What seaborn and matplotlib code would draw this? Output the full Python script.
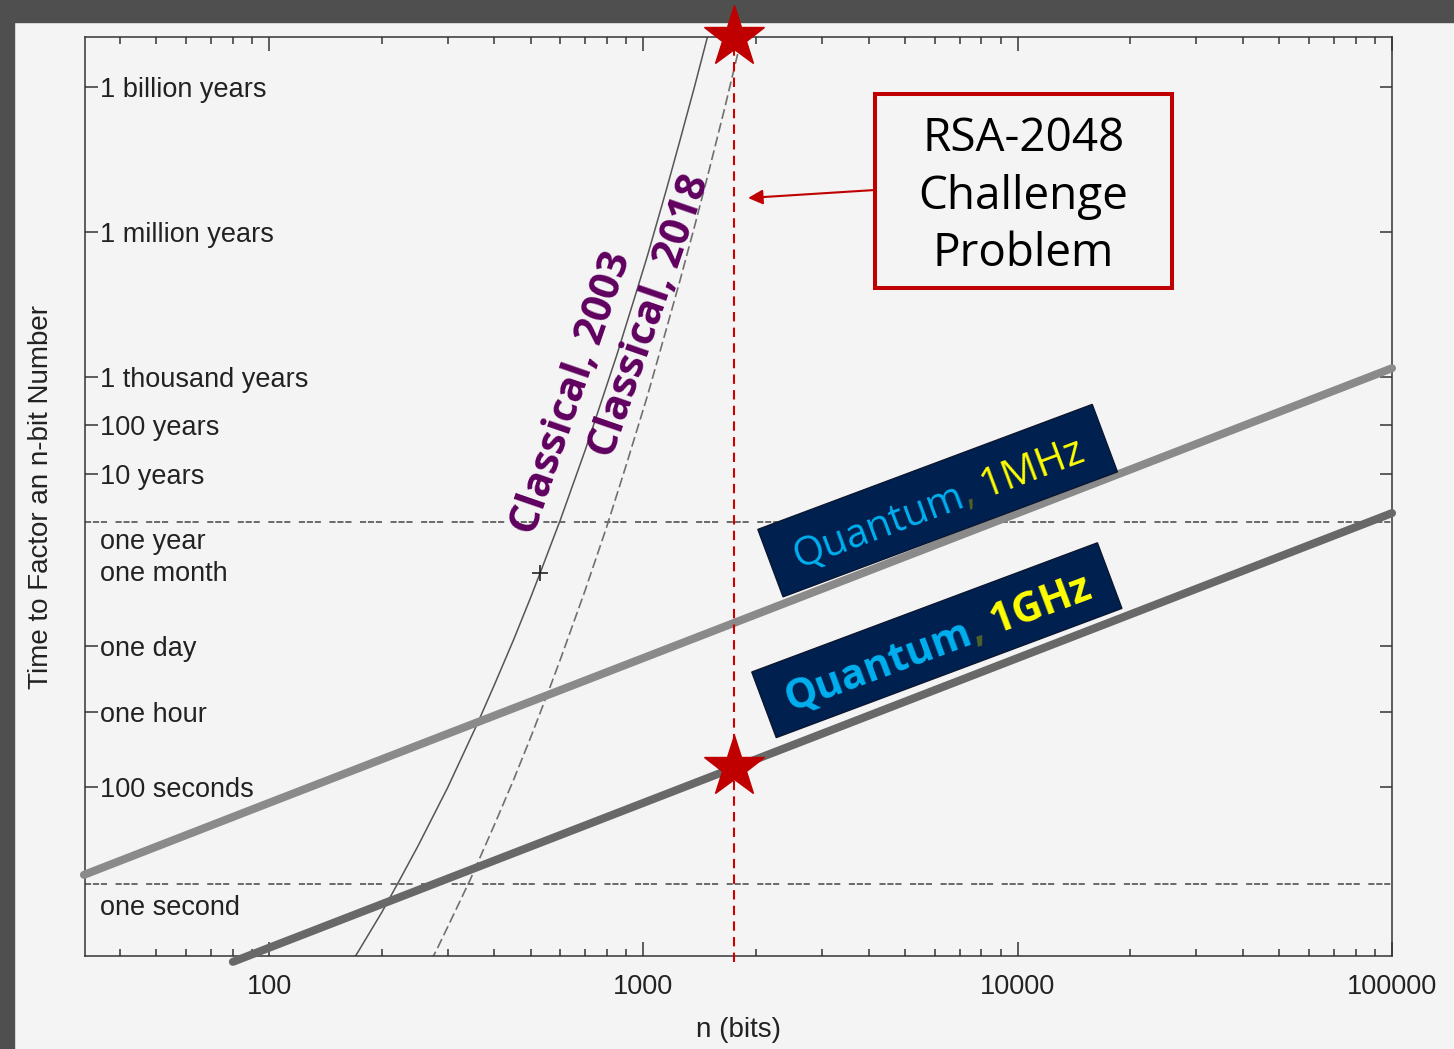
import numpy as np
import matplotlib
matplotlib.use('Agg')
import matplotlib.pyplot as plt
import matplotlib.patches as mpatches
from matplotlib.transforms import Affine2D, IdentityTransform
from matplotlib.ticker import LogLocator, NullFormatter, NullLocator
import seaborn as sns

# 数据 (n 位, 秒)
bits_1mhz = [32, 100, 1000, 10000, 100000]
secs_1mhz = [1.55, 48, 4.8e4, 4.8e7, 4.8e10]
bits_1ghz = [80, 100, 1000, 10000, 100000]
secs_1ghz = [0.0245, 0.048, 48, 4.8e4, 4.8e7]

bits_2003 = [150, 173, 200, 223, 250, 300, 330, 359, 400, 450, 500, 530, 600, 700, 850,
             950, 1024, 1150, 1250, 1370, 1483, 1600]
secs_2003 = [6.9e-3, 4.0e-2, 0.26, 1.2, 6.2, 1.0e2, 4.9e2, 2.0e3, 1.35e4, 1.15e5, 8.7e5,
             2.8e6, 3.5e7, 1.0e9, 9.3e10, 1.5e12, 1.0e13, 2.3e14, 2.4e15, 3.3e16, 3.5e17,
             3.6e18]
bits_2018 = [250, 282, 300, 344, 400, 450, 500, 558, 600, 700, 795, 900, 1024, 1150, 1250,
             1370, 1500, 1650, 1776, 1850]
secs_2018 = [7.8e-3, 4.8e-2, 0.13, 1.2, 17, 1.45e2, 1.1e3, 1.0e4, 4.5e4, 1.26e6, 2.3e7,
             4.8e8, 1.26e10, 3.0e11, 3.0e12, 4.2e13, 6.3e14, 1.2e16, 1.3e17, 4.8e17]

rsa_bits = 1750
rsa_secs_1ghz = 260
rsa512_bits = 530
rsa512_secs = 2.7e6

YEAR = 3.156e7
ytick_secs = [1e9 * YEAR, 1e6 * YEAR, 1e3 * YEAR, 100 * YEAR, 10 * YEAR, 86400, 3600, 100]
ytick_labels = ['1 billion years', '1 million years', '1 thousand years', '100 years',
                '10 years', 'one day', 'one hour', '100 seconds']
extra_labels = ['one year', 'one month', 'one second']
extra_secs = [YEAR, YEAR / 12, 1]
xtick_bits = [100, 1000, 10000, 100000]
xtick_labels = ['100', '1000', '10000', '100000']

# 样式
BG = '#f4f4f4'
INK = '#222222'
RED = '#c00000'
NAVY = '#002050'
PURPLE = '#5f005f'
LABEL_FONT = ['Open Sans', 'DejaVu Sans']

sns.set_theme(style='ticks')
plt.rcParams['font.family'] = ['Liberation Sans', 'DejaVu Sans']

fig = plt.figure(figsize=(14.5401, 10.4901), dpi=100, facecolor=BG)
ax = fig.add_axes([85 / 1454, 93 / 1049, 1307 / 1454, 919 / 1049])
ax.set_facecolor(BG)
ax.set(xscale='log', yscale='log')
ax.set_xlim(10 ** 1.508, 1e5)
ax.set_ylim(10 ** -1.49, 10 ** 17.54)
y_top = ax.get_ylim()[1]

# 参考线
dots = (0, (4, 1.2, 4, 1.2, 4, 5.6))
ax.axhline(YEAR, color='#444444', lw=1.1, ls=dots, zorder=1)
ax.axhline(1, color='#444444', lw=1.1, ls=dots, zorder=1)

# 曲线
sns.lineplot(x=bits_2003, y=secs_2003, ax=ax, color='#555555', lw=1.1, estimator=None, zorder=2)
sns.lineplot(x=bits_2018, y=secs_2018, ax=ax, color='#707070', lw=1.2,
             linestyle=(0, (6, 2.5)), estimator=None, zorder=2)
sns.lineplot(x=bits_1mhz, y=secs_1mhz, ax=ax, color='#8a8a8a', lw=5.8, estimator=None,
             solid_capstyle='round', clip_on=False, zorder=3)
sns.lineplot(x=bits_1ghz, y=secs_1ghz, ax=ax, color='#686868', lw=5.8, estimator=None,
             solid_capstyle='round', clip_on=False, zorder=3)

ax.plot([rsa512_bits], [rsa512_secs], marker='+', ms=12, mew=1.2, color=INK, zorder=4)

# RSA-2048
ax.axvline(rsa_bits, ymin=-0.007, ymax=1, color='#cc0000', lw=1.5, ls=(0, (4.5, 3)),
           clip_on=False, zorder=4)
ax.plot([rsa_bits], [y_top], marker='*', ms=46, color=RED, mec=RED, clip_on=False, zorder=7)
ax.plot([rsa_bits], [rsa_secs_1ghz], marker='*', ms=46, color=RED, mec=RED, clip_on=False, zorder=7)

ax.add_patch(mpatches.Rectangle((0.6044, 0.7269), 0.2273, 0.2111, transform=ax.transAxes,
                                facecolor=BG, edgecolor=RED, lw=2.9, zorder=5))
ax.text(0.718, 0.826, 'RSA-2048\nChallenge\nProblem', transform=ax.transAxes,
        ha='center', va='center', fontsize=33, linespacing=1.33, color='black',
        family=LABEL_FONT, zorder=6)
ax.annotate('', xy=(0.5073, 0.8248), xytext=(0.6044, 0.8335), xycoords='axes fraction',
            arrowprops=dict(arrowstyle='-|>', color=RED, lw=1.5, mutation_scale=22,
                            shrinkA=0, shrinkB=0), zorder=6)

# 经典算法标签
ax.text(645, 1.5e10, 'Classical, 2003', rotation=71, rotation_mode='anchor', ha='center',
        va='center', fontsize=30, fontweight='bold', color=PURPLE, family=LABEL_FONT, zorder=5)
ax.text(1045, 5.7e11, 'Classical, 2018', rotation=71, rotation_mode='anchor', ha='center',
        va='center', fontsize=30, fontweight='bold', color=PURPLE, family=LABEL_FONT, zorder=5)

# 坐标轴
for sp in ax.spines.values():
    sp.set_visible(True)
    sp.set_color('#333333')
    sp.set_linewidth(1.1)

ax.set_xticks(xtick_bits, labels=xtick_labels)
ax.xaxis.set_minor_locator(LogLocator(base=10, subs=np.arange(2, 10), numticks=20))
ax.xaxis.set_minor_formatter(NullFormatter())
ax.tick_params(axis='x', which='major', direction='in', length=10, width=1.1, top=True,
               pad=13, labelsize=19.5, labelcolor=INK, color='#333333')
ax.tick_params(axis='x', which='minor', direction='in', length=5, width=1.1, top=True,
               color='#333333')

ax.set_yticks(ytick_secs, labels=ytick_labels)
ax.yaxis.set_minor_locator(NullLocator())
ax.tick_params(axis='y', which='major', direction='in', length=9, width=1.1, left=True,
               right=True, pad=-11, labelsize=19.5, labelcolor=INK, color='#333333')
for lab in ax.get_yticklabels():
    lab.set_horizontalalignment('left')

for lab, sec, dy in zip(extra_labels, extra_secs, [-14.5, 0, -17.3]):
    ax.annotate(lab, xy=(0, sec), xycoords=('axes fraction', 'data'), xytext=(11, dy),
                textcoords='offset points', ha='left', va='center', fontsize=19.5, color=INK)

ax.set_xlabel('n (bits)', fontsize=20, color=INK)
ax.set_ylabel('Time to Factor an n-bit Number', fontsize=20, color=INK)
ax.xaxis.set_label_coords(0.5, -0.066)
ax.yaxis.set_label_coords(-0.024, 0.5)

# 量子标签框 (旋转, 多色文字)
renderer = fig.canvas.get_renderer()


def text_width(s, size, weight):
    t = fig.text(0, 0, s, fontsize=size, fontweight=weight, family=LABEL_FONT,
                 transform=IdentityTransform())
    w = t.get_window_extent(renderer).width
    t.remove()
    return w


def quantum_box(center, angle, pieces, size, weight, box_w, box_h):
    cx, cy = ax.transData.transform(center)
    rect = mpatches.Rectangle((cx - box_w / 2, cy - box_h / 2), box_w, box_h,
                              transform=Affine2D().rotate_deg_around(cx, cy, angle),
                              facecolor=NAVY, edgecolor='#0b1630', lw=1, zorder=5)
    fig.add_artist(rect)
    th = np.deg2rad(angle)
    u = np.array([np.cos(th), np.sin(th)])
    up = np.array([-np.sin(th), np.cos(th)])
    full = ''.join(p[0] for p in pieces)
    total = text_width(full, size, weight)
    em = size * fig.dpi / 72
    start = np.array([cx, cy]) - total / 2 * u - 0.36 * em * up
    prefix = ''
    for s, c in pieces:
        off = text_width(prefix + s, size, weight) - text_width(s, size, weight)
        pos = start + off * u
        fig.text(pos[0], pos[1], s, color=c, fontsize=size, fontweight=weight,
                 family=LABEL_FONT, transform=IdentityTransform(), ha='left',
                 va='baseline', rotation=angle, rotation_mode='anchor', zorder=6)
        prefix += s


quantum_box((6110, 8.7e7), 20.5,
            [('Quantum', '#00b0f0'), (',', '#4f6228'), (' 1MHz', '#ffff00')],
            29, 'normal', 357, 72)
quantum_box((6080, 1.12e5), 20.5,
            [('Quantum', '#00b0f0'), (',', '#4f6228'), (' 1GHz', '#ffff00')],
            29.5, 'bold', 369, 70)

# 外框深色边
fig.add_artist(mpatches.Rectangle((0, 0), 14 / 1454, 1, transform=fig.transFigure,
                                  color='#4f4f4f', zorder=-1))
fig.add_artist(mpatches.Rectangle((0, 1 - 22 / 1049), 1, 22 / 1049, transform=fig.transFigure,
                                  color='#4f4f4f', zorder=-1))

fig.savefig('out.png', dpi=100, facecolor=BG)
